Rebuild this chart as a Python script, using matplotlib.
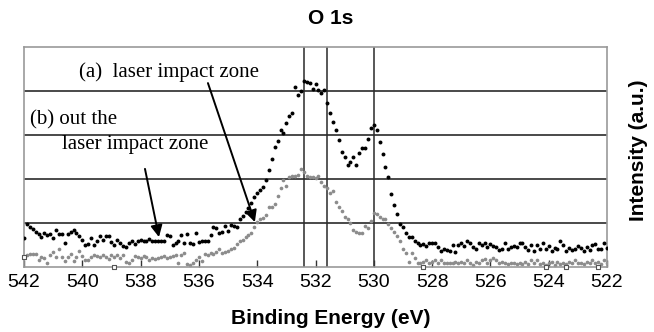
import matplotlib.pyplot as plt
import numpy as np

# binding energy grid (eV), 0.1 eV step from 542 down to 522
energy = np.round(np.arange(542.0, 521.95, -0.1), 1)

# (a) laser impact zone
zone_a = [
    0.66, 0.98, 0.92, 0.86, 0.80, 0.76, 0.69, 0.78, 0.72, 0.74,
    0.65, 0.84, 0.75, 0.74, 0.55, 0.75, 0.80, 0.84, 0.77, 0.70,
    0.62, 0.50, 0.53, 0.65, 0.50, 0.60, 0.70, 0.62, 0.71, 0.71,
    0.57, 0.50, 0.62, 0.55, 0.48, 0.45, 0.54, 0.60, 0.52, 0.58,
    0.62, 0.60, 0.58, 0.64, 0.60, 0.60, 0.60, 0.60, 0.60, 0.73,
    0.70, 0.50, 0.55, 0.58, 0.73, 0.55, 0.75, 0.55, 0.52, 0.78,
    0.56, 0.58, 0.60, 0.60, 0.73, 0.90, 0.88, 0.77, 0.80, 0.93,
    0.82, 0.95, 0.93, 0.90, 1.08, 1.15, 1.26, 1.35, 1.45, 1.58,
    1.69, 1.75, 1.81, 1.98, 2.20, 2.45, 2.73, 2.87, 3.11, 3.04,
    3.27, 3.43, 3.49, 4.10, 3.91, 4.00, 4.23, 4.21, 4.19, 4.04,
    4.17, 4.02, 3.95, 4.02, 3.73, 3.50, 3.30, 3.11, 2.89, 2.62,
    2.49, 2.32, 2.39, 2.51, 2.32, 2.60, 2.70, 2.70, 2.92, 3.15,
    3.23, 3.11, 2.85, 2.57, 2.28, 2.04, 1.65, 1.40, 1.20, 0.98,
    0.90, 0.78, 0.68, 0.68, 0.58, 0.55, 0.50, 0.52, 0.48, 0.54,
    0.54, 0.54, 0.45, 0.37, 0.40, 0.38, 0.37, 0.50, 0.33, 0.50,
    0.55, 0.47, 0.60, 0.54, 0.45, 0.42, 0.54, 0.50, 0.54, 0.45,
    0.52, 0.48, 0.45, 0.39, 0.42, 0.54, 0.40, 0.45, 0.47, 0.45,
    0.55, 0.55, 0.45, 0.39, 0.50, 0.36, 0.50, 0.42, 0.54, 0.40,
    0.48, 0.36, 0.44, 0.40, 0.60, 0.50, 0.36, 0.44, 0.39, 0.42,
    0.48, 0.44, 0.36, 0.46, 0.38, 0.50, 0.52, 0.40, 0.40, 0.55,
    0.44,
]

# (b) out the laser impact zone
zone_b = [
    0.23, 0.28, 0.30, 0.29, 0.30, 0.16, 0.23, 0.20, 0.10, 0.27,
    0.33, 0.23, 0.40, 0.22, 0.14, 0.23, 0.29, 0.14, 0.23, 0.37,
    0.25, 0.16, 0.17, 0.23, 0.27, 0.25, 0.23, 0.27, 0.22, 0.18,
    0.27, 0.23, 0.27, 0.21, 0.27, 0.12, 0.08, 0.16, 0.25, 0.23,
    0.21, 0.25, 0.23, 0.16, 0.21, 0.18, 0.20, 0.22, 0.24, 0.20,
    0.22, 0.26, 0.28, 0.10, 0.27, 0.31, 0.06, 0.05, 0.08, 0.16,
    0.23, 0.14, 0.30, 0.27, 0.32, 0.30, 0.34, 0.40, 0.32, 0.34,
    0.37, 0.40, 0.44, 0.52, 0.58, 0.62, 0.69, 0.73, 0.78, 0.92,
    1.03, 1.08, 1.12, 1.18, 1.37, 1.37, 1.43, 1.62, 1.79, 1.98,
    1.84, 2.04, 2.06, 2.07, 2.10, 2.22, 2.17, 2.07, 2.04, 2.04,
    2.02, 2.07, 1.94, 1.85, 1.79, 1.68, 1.73, 1.48, 1.36, 1.28,
    1.14, 1.08, 1.01, 0.84, 0.80, 0.78, 0.78, 0.93, 0.88, 1.05,
    1.23, 1.20, 1.14, 1.10, 1.10, 0.98, 0.88, 0.80, 0.70, 0.60,
    0.42, 0.32, 0.12, 0.31, 0.20, 0.10, 0.08, 0.12, 0.15, 0.08,
    0.11, 0.15, 0.09, 0.17, 0.08, 0.09, 0.08, 0.09, 0.11, 0.08,
    0.11, 0.08, 0.15, 0.08, 0.05, 0.11, 0.08, 0.15, 0.19, 0.08,
    0.15, 0.20, 0.15, 0.08, 0.12, 0.08, 0.06, 0.08, 0.08, 0.06,
    0.08, 0.06, 0.12, 0.06, 0.15, 0.08, 0.15, 0.06, 0.10, 0.05,
    0.08, 0.12, 0.05, 0.12, 0.06, 0.08, 0.06, 0.12, 0.08, 0.15,
    0.08, 0.08, 0.06, 0.12, 0.08, 0.15, 0.08, 0.12, 0.06, 0.15,
    0.10,
]

# small open squares sitting on the baseline
sq_energy = [542.0, 538.9, 528.3, 524.1, 523.4, 522.3]
sq_value = [0.23, 0.0, 0.0, 0.0, 0.0, 0.0]

peak_lines = [532.4, 531.6, 530.0]
xticks = [542, 540, 538, 536, 534, 532, 530, 528, 526, 524, 522]

fig = plt.figure(figsize=(6.54, 3.32), dpi=100)
ax = fig.add_axes([24 / 654, 1 - 267 / 332, 583 / 654, 220 / 332])

for v in [1, 2, 3, 4]:
    ax.axhline(v, color='#3a3a3a', lw=1.3, zorder=1)
for e in peak_lines:
    ax.axvline(e, color='#2a2a2a', lw=1.1, zorder=1)

ax.scatter(energy, zone_b, s=7, color='#8c8c8c', lw=0, zorder=2)
ax.scatter(energy, zone_a, s=8, color='black', lw=0, zorder=3)
ax.scatter(sq_energy, sq_value, s=12, marker='s', facecolor='white',
           edgecolor='#555555', lw=0.8, zorder=4, clip_on=False)

ax.set_xlim(542, 522)
ax.set_ylim(0, 5)
ax.set_xticks(xticks)
ax.set_yticks([])
ax.tick_params(axis='x', direction='in', length=5, width=1, color='#333333',
               labelsize=14, pad=5)
for s in ax.spines.values():
    s.set_color('#999999')
    s.set_linewidth(1.2)

serif = ['Liberation Serif', 'DejaVu Serif']
ax.text(540.1, 4.42, '(a)  laser impact zone', family=serif, fontsize=15,
        va='center', ha='left')
ax.text(541.8, 3.35, '(b) out the', family=serif, fontsize=15,
        va='center', ha='left')
ax.text(540.7, 2.79, 'laser impact zone', family=serif, fontsize=15,
        va='center', ha='left')

arr = dict(arrowstyle='-|>,head_width=0.35,head_length=0.7', color='black',
           lw=1.4, shrinkA=0, shrinkB=0)
ax.annotate('', xy=(534.08, 1.02), xytext=(535.69, 4.18), arrowprops=arr)
ax.annotate('', xy=(537.37, 0.68), xytext=(537.85, 2.23), arrowprops=arr)

sans = ['Liberation Sans', 'DejaVu Sans']
fig.text(331 / 654, 1 - 19 / 332, 'O 1s', family=sans, fontsize=15,
         fontweight='bold', ha='center', va='center')
fig.text(331 / 654, 1 - 318 / 332, 'Binding Energy (eV)', family=sans,
         fontsize=15, fontweight='bold', ha='center', va='center')
fig.text(638 / 654, 1 - 150 / 332, 'Intensity (a.u.)', family=sans,
         fontsize=15, fontweight='bold', rotation=90, ha='center', va='center')
for lab in ax.get_xticklabels():
    lab.set_family(sans)

fig.savefig('out.png', dpi=100)
